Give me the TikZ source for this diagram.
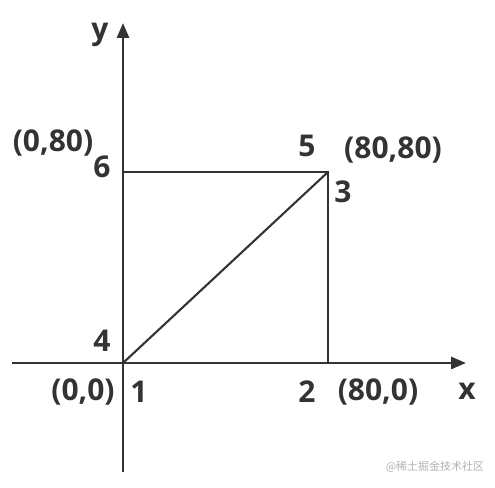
\documentclass[tikz,border=0pt]{standalone}
\usepackage{fontspec}
\setmainfont{Open Sans}
\newfontfamily\cjk{Noto Sans CJK SC}
\usetikzlibrary{arrows.meta}
\definecolor{ink}{HTML}{333333}
\tikzset{
  axis/.style={draw=ink, line width=2.8pt, -{Triangle[length=15pt,width=12pt]}},
  edge/.style={draw=ink, line width=2.8pt},
  diag/.style={draw=ink, line width=2.1pt},
  lbl/.style={text=ink, font=\fontsize{30}{34}\selectfont\bfseries, inner sep=0pt, anchor=center},
  wm/.style={text=black!30, font=\cjk\fontsize{11}{13}\selectfont, inner sep=0pt}
}
\begin{document}
\begin{tikzpicture}[x=1pt,y=1pt]
\useasboundingbox (0,0) rectangle (495,487);
\coordinate (xs) at (12,124);
\coordinate (xe) at (466,124);
\coordinate (ys) at (123,15);
\coordinate (ye) at (123,464);
\coordinate (p1) at (123,124);
\coordinate (p2) at (328,124);
\coordinate (p3) at (328,315);
\coordinate (p6) at (123,315);
\draw[axis] (xs) -- (xe);
\draw[axis] (ys) -- (ye);
\draw[edge] (p1) -- (p2) -- (p3) -- (p6) -- cycle;
\draw[diag] (p1) -- (p3);
\node[lbl] (ly) at (100,452) {y};
\node[lbl] (lx) at (467,96) {x};
\node[lbl] (c080) at (53,344) {(0,80)};
\node[lbl] (n6) at (102,320) {6};
\node[lbl] (n5) at (307,341) {5};
\node[lbl] (c8080) at (393,337) {(80,80)};
\node[lbl] (n3) at (343,295) {3};
\node[lbl] (n4) at (102,146) {4};
\node[lbl] (c00) at (83,95) {(0,0)};
\node[lbl] (n1) at (139,95) {1};
\node[lbl] (n2) at (307,95) {2};
\node[lbl] (c800) at (378,95) {(80,0)};
\node[wm] (w) at (435,20) {@稀土掘金技术社区};
\end{tikzpicture}
\end{document}
